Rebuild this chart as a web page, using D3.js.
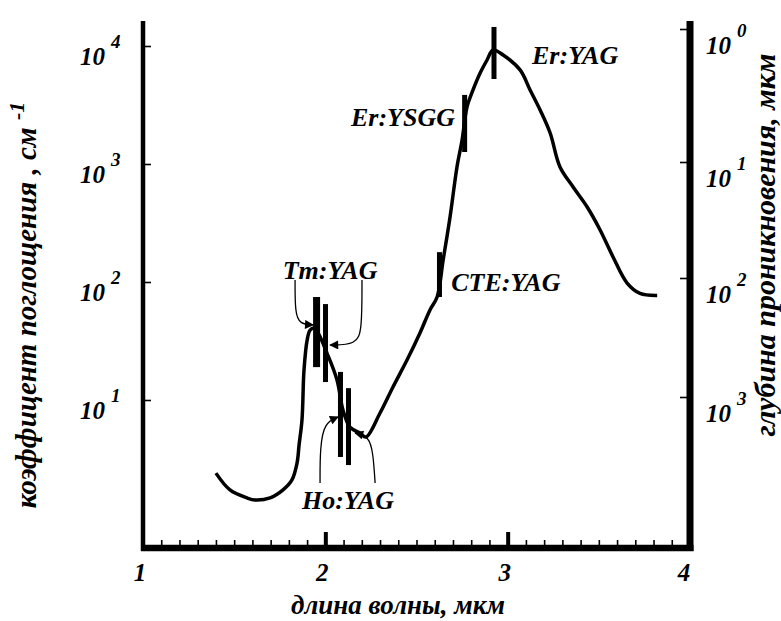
<!DOCTYPE html>
<html lang="ru">
    <head>
        <meta charset="utf-8">
        <title>D3: коэффицент поглощения воды</title>
        <script type="text/javascript" src="https://cdn.jsdelivr.net/npm/d3@7"></script>
        <style type="text/css">
            body { margin: 0; background: #fff; }
            text { font-family: "Liberation Serif", "Times New Roman", serif; font-style: italic; font-weight: bold; fill: #000; }
        </style>
    </head>
    <body>
        <script type="text/javascript">
            //Width and height
            var w = 781;
            var h = 621;

            // absorption curve (wavelength in mkm, absorption in cm^-1)
            var wavelength = [1.40, 1.477, 1.570, 1.614, 1.697, 1.768, 1.817, 1.845, 1.856, 1.872, 1.883, 1.900,
                              1.916, 1.938, 1.960, 2.009, 2.064, 2.097, 2.135, 2.190, 2.223, 2.300, 2.371, 2.448,
                              2.519, 2.574, 2.613, 2.646, 2.684, 2.722, 2.750, 2.777, 2.810, 2.849, 2.887, 2.920,
                              2.975, 3.068, 3.123, 3.178, 3.233, 3.287, 3.359, 3.436, 3.507, 3.578, 3.655, 3.726, 3.820];
            var absorption = [2.40, 1.73, 1.48, 1.42, 1.48, 1.73, 2.10, 2.93, 4.16, 6.8, 17.9, 32,
                              39, 40.7, 37, 25, 14.8, 8.2, 5.9, 5.25, 4.86, 7.76, 12.9, 21.8,
                              37, 58, 74.6, 153, 356, 944, 1597, 3040, 4240, 5900, 7610, 9250,
                              8390, 6270, 4240, 2870, 1830, 944, 638, 432, 276, 163, 98, 80, 77];

            // laser lines: wavelength, bar bottom and top (cm^-1)
            var laserLine = [1.952, 2.001, 2.083, 2.127, 2.626, 2.764, 2.925];
            var laserLow  = [19, 14.2, 3.29, 2.81, 74.6, 1264, 5250];
            var laserHigh = [74.6, 65, 17.3, 12.6, 179, 3850, 14500];
            var laserWidth = [7, 5, 5, 5, 5, 5, 5];

            // laser names and where they are written
            var laserName = ["Tm:YAG", "Ho:YAG", "CTE:YAG", "Er:YSGG", "Er:YAG"];
            var laserNameX = [2.026, 2.124, 2.99, 2.426, 3.37];
            var laserNameY = [126, 1.42, 100, 2500, 8400];

            // arrows from the names to the lines [wavelength, absorption]
            var arrows = [
                [[1.834, 104], [1.834, 54.6], [1.860, 44], [1.933, 43.3]],
                [[2.201, 104], [2.201, 39.2], [2.170, 29.5], [2.026, 29.2]],
                [[1.971, 1.98], [1.971, 4.0], [1.995, 6.4], [2.070, 7.18]],
                [[2.273, 1.98], [2.262, 3.56], [2.240, 4.9], [2.163, 5.25]]
            ];

            var xTicks = [1, 2, 3, 4];
            var xMajor = [2, 3];
            var xMinor = d3.range(11, 40).filter(function(d) { return d % 10 != 0; }).map(function(d) { return d / 10; });
            var leftTicks = [10, 100, 1000, 10000];
            var leftExp = ["1", "2", "3", "4"];
            var rightTicks = [1, 10, 100, 1000];
            var rightExp = ["0", "1", "2", "3"];

            var plotTop = 21, plotBottom = 548;

            var x = d3.scaleLinear().domain([1, 4]).range([143, 690]);
            var y = d3.scaleLog().domain([10, 10000]).range([400, 46]);
            var yr = d3.scaleLog().domain([1, 10, 100, 1000]).range([29, 162, 278, 397]);

            //Create SVG element
            var svg = d3.select("body")
                        .append("svg")
                        .attr("width", w)
                        .attr("height", h);

            svg.append("defs").append("marker")
                .attr("id", "head")
                .attr("viewBox", "0 0 10 10")
                .attr("refX", 9)
                .attr("refY", 5)
                .attr("markerWidth", 13)
                .attr("markerHeight", 9)
                .attr("markerUnits", "userSpaceOnUse")
                .attr("orient", "auto")
                .append("path")
                .attr("d", "M0,0L10,5L0,10z")
                .attr("fill", "#000");

            // ticks
            svg.append("g")
                .attr("transform", "translate(" + x(1) + ",0)")
                .call(d3.axisRight(y).tickValues(leftTicks).tickSize(8).tickFormat(""))
                .call(function(g) { g.select(".domain").remove(); })
                .selectAll("line").attr("stroke-width", 1.6);
            svg.append("g")
                .attr("transform", "translate(" + x(4) + ",0)")
                .call(d3.axisLeft(yr).tickValues(rightTicks).tickSize(10).tickFormat(""))
                .call(function(g) { g.select(".domain").remove(); })
                .selectAll("line").attr("stroke-width", 1.6);
            svg.append("g")
                .attr("transform", "translate(0," + plotBottom + ")")
                .call(d3.axisTop(x).tickValues(xMinor).tickSize(8).tickFormat(""))
                .call(function(g) { g.select(".domain").remove(); })
                .selectAll("line").attr("stroke-width", 1.6);
            svg.append("g")
                .attr("transform", "translate(0," + plotBottom + ")")
                .call(d3.axisTop(x).tickValues(xMajor).tickSize(16).tickFormat(""))
                .call(function(g) { g.select(".domain").remove(); })
                .selectAll("line").attr("stroke-width", 4);

            // axis frame
            svg.append("line").attr("x1", x(1)).attr("x2", x(1)).attr("y1", plotTop).attr("y2", plotBottom + 3)
                .attr("stroke", "#000").attr("stroke-width", 4.5);
            svg.append("line").attr("x1", x(4)).attr("x2", x(4)).attr("y1", plotTop).attr("y2", plotBottom + 3)
                .attr("stroke", "#000").attr("stroke-width", 7);
            svg.append("line").attr("x1", x(1) - 2).attr("x2", x(4) + 3.5).attr("y1", plotBottom).attr("y2", plotBottom)
                .attr("stroke", "#000").attr("stroke-width", 6.5);

            // tick labels
            function powerLabel(sel, exps, xpos, ypos) {
                var t = sel.append("text")
                    .attr("x", xpos)
                    .attr("y", ypos)
                    .attr("font-size", 25);
                t.append("tspan").text("10");
                t.append("tspan").attr("dx", 6).attr("dy", -17).attr("font-size", 19).text(exps);
                return t;
            }
            leftTicks.forEach(function(d, i) {
                powerLabel(svg, leftExp[i], 80, y(d) + 19);
            });
            rightTicks.forEach(function(d, i) {
                powerLabel(svg, rightExp[i], 706, yr(d) + 25);
            });
            svg.selectAll(".xlab")
                .data(xTicks)
                .enter()
                .append("text")
                .attr("class", "xlab")
                .attr("x", function(d) { return x(d) - (d == 4 ? 6 : 3); })
                .attr("y", 581)
                .attr("text-anchor", "middle")
                .attr("font-size", 25)
                .text(function(d) { return d; });

            // axis titles
            svg.append("text")
                .attr("x", 398)
                .attr("y", 614)
                .attr("text-anchor", "middle")
                .attr("font-size", 27)
                .text("длина волны, мкм");
            var lt = svg.append("text")
                .attr("transform", "translate(36,305) rotate(-90)")
                .attr("text-anchor", "middle")
                .attr("font-size", 29);
            lt.append("tspan").text("коэффицент поглощения , см ");
            lt.append("tspan").attr("dy", -12).attr("font-size", 22).text("-1");
            svg.append("text")
                .attr("transform", "translate(775,245) rotate(-90)")
                .attr("text-anchor", "middle")
                .attr("font-size", 30)
                .attr("font-weight", "normal")
                .text("глубина проникновения,  мкм");

            // absorption curve
            var points = wavelength.map(function(d, i) { return [d, absorption[i]]; });
            var line = d3.line()
                .x(function(d) { return x(d[0]); })
                .y(function(d) { return y(d[1]); })
                .curve(d3.curveCatmullRom.alpha(0.5));
            svg.append("path")
                .datum(points)
                .attr("d", line)
                .attr("fill", "none")
                .attr("stroke", "#000")
                .attr("stroke-width", 3.5)
                .attr("stroke-linejoin", "round");

            // laser bars
            svg.selectAll(".bar")
                .data(laserLine)
                .enter()
                .append("rect")
                .attr("class", "bar")
                .attr("x", function(d, i) { return x(d) - laserWidth[i] / 2; })
                .attr("y", function(d, i) { return y(laserHigh[i]); })
                .attr("width", function(d, i) { return laserWidth[i]; })
                .attr("height", function(d, i) { return y(laserLow[i]) - y(laserHigh[i]); })
                .attr("fill", "#000");

            // arrows
            var arrowLine = d3.line()
                .x(function(d) { return x(d[0]); })
                .y(function(d) { return y(d[1]); })
                .curve(d3.curveBasis);
            svg.selectAll(".arrow")
                .data(arrows)
                .enter()
                .append("path")
                .attr("class", "arrow")
                .attr("d", arrowLine)
                .attr("fill", "none")
                .attr("stroke", "#000")
                .attr("stroke-width", 1.3)
                .attr("marker-end", "url(#head)");

            // laser names
            svg.selectAll(".name")
                .data(laserName)
                .enter()
                .append("text")
                .attr("class", "name")
                .attr("x", function(d, i) { return x(laserNameX[i]); })
                .attr("y", function(d, i) { return y(laserNameY[i]) + 9; })
                .attr("text-anchor", "middle")
                .attr("font-size", 26)
                .text(function(d) { return d; });
        </script>
    </body>
</html>
